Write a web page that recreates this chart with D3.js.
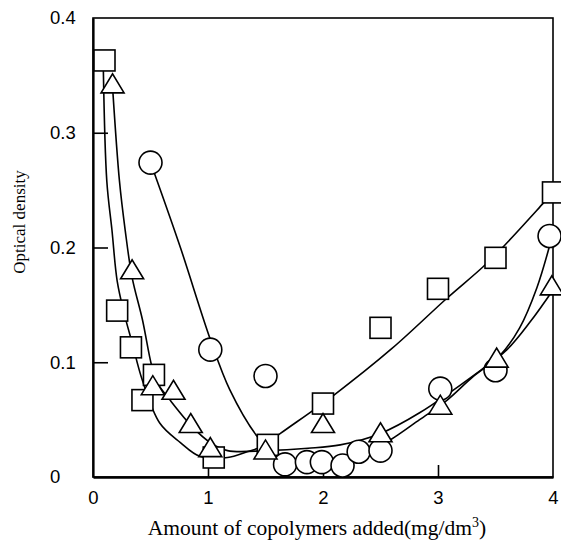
<!DOCTYPE html>
<html>
<head>
<meta charset="utf-8">
<script src="https://cdn.jsdelivr.net/npm/d3@7"></script>
<style>
  body { margin: 0; background: #fff; }
  .tick text { font-family: "Liberation Sans", Arial, sans-serif; font-size: 18.5px; fill: #000; }
  .title { font-family: "Liberation Serif", "Times New Roman", serif; fill: #000; }
</style>
</head>
<body>
<div id="chart"></div>
<script>
const squareX = [0.10, 0.21, 0.33, 0.43, 0.53, 1.05, 1.52, 2.00, 2.50, 3.00, 3.50, 4.00];
const squareY = [0.363, 0.145, 0.113, 0.067, 0.089, 0.017, 0.028, 0.064, 0.130, 0.164, 0.191, 0.248];

const triangleX = [0.17, 0.34, 0.52, 0.70, 0.85, 1.02, 1.50, 2.00, 2.50, 3.02, 3.51, 3.99];
const triangleY = [0.343, 0.181, 0.080, 0.076, 0.047, 0.026, 0.024, 0.047, 0.039, 0.063, 0.104, 0.167];

const circleX = [0.50, 1.02, 1.50, 1.67, 1.86, 1.99, 2.17, 2.31, 2.50, 3.02, 3.50, 3.97];
const circleY = [0.274, 0.111, 0.088, 0.011, 0.013, 0.013, 0.010, 0.022, 0.023, 0.077, 0.093, 0.210];

// hand drawn fit curves
const squareFitX = [0.09, 0.12, 0.165, 0.21, 0.27, 0.34, 0.43, 0.58, 0.76, 0.93, 1.17, 1.34, 1.48, 1.63, 2.09, 2.60, 3.08, 3.39, 3.58, 3.91, 4.00];
const squareFitY = [0.355, 0.258, 0.215, 0.171, 0.143, 0.117, 0.084, 0.047, 0.030, 0.018, 0.017, 0.022, 0.027, 0.038, 0.071, 0.112, 0.156, 0.183, 0.202, 0.238, 0.248];

const triangleFitX = [0.17, 0.23, 0.28, 0.34, 0.43, 0.51, 0.56, 0.67, 0.87, 1.02, 1.17, 1.51, 1.87, 2.15, 2.50, 2.84, 3.37, 3.60, 3.80, 4.00];
const triangleFitY = [0.340, 0.258, 0.215, 0.174, 0.137, 0.097, 0.082, 0.067, 0.043, 0.030, 0.023, 0.023, 0.025, 0.028, 0.038, 0.056, 0.093, 0.111, 0.135, 0.163];

const circleFitX = [0.50, 0.54, 0.76, 1.02, 1.19, 1.43, 1.63, 1.85, 2.10, 2.35, 2.58, 2.84, 3.08, 3.30, 3.54, 3.71, 3.86, 3.98];
const circleFitY = [0.274, 0.263, 0.200, 0.120, 0.076, 0.035, 0.014, 0.008, 0.010, 0.020, 0.032, 0.050, 0.067, 0.087, 0.106, 0.130, 0.165, 0.205];

const xTicks = [0, 1, 2, 3, 4];
const yTicks = [0, 0.1, 0.2, 0.3, 0.4];

const W = 561, H = 547;
const plotLeft = 93, plotRight = 553, plotTop = 18, plotBottom = 477;

const svg = d3.select('#chart')
  .append('svg')
  .attr('width', W)
  .attr('height', H);

const x = d3.scaleLinear().domain([0, 4]).range([plotLeft, plotRight]);
const y = d3.scaleLinear().domain([0, 0.4]).range([plotBottom, plotTop]);

// frame
svg.append('rect')
  .attr('x', x(0))
  .attr('y', y(0.4))
  .attr('width', x(4) - x(0))
  .attr('height', y(0) - y(0.4))
  .attr('fill', 'none')
  .attr('stroke', '#000')
  .attr('stroke-width', 1.6);

// axes (ticks point inward)
const yAxis = svg.append('g')
  .attr('transform', `translate(${plotLeft},0)`)
  .call(d3.axisLeft(y)
    .tickValues(yTicks)
    .tickSize(-15)
    .tickSizeOuter(0)
    .tickFormat(d => d === 0 ? '0' : d3.format('.1f')(d)));
yAxis.select('.domain').attr('stroke-width', 2.2);
yAxis.selectAll('.tick line').attr('stroke-width', 1.6);
yAxis.selectAll('.tick text')
  .attr('x', -43)
  .attr('text-anchor', 'start');
yAxis.selectAll('.tick').filter(d => d === 0 || d === 0.4).select('line').remove();

const xAxis = svg.append('g')
  .attr('transform', `translate(0,${plotBottom})`)
  .call(d3.axisBottom(x)
    .tickValues(xTicks)
    .tickSize(-12)
    .tickSizeOuter(0)
    .tickFormat(d3.format('d')));
xAxis.select('.domain').attr('stroke-width', 2.6);
xAxis.selectAll('.tick line').attr('stroke-width', 1.6);
xAxis.selectAll('.tick text').attr('y', 14);
xAxis.selectAll('.tick').filter(d => d === 0 || d === 4).select('line').remove();
svg.selectAll('.domain').attr('stroke', '#000');

// curves
const line = d3.line()
  .x(d => x(d[0]))
  .y(d => y(d[1]))
  .curve(d3.curveCatmullRom.alpha(0.5));

const fits = [
  d3.zip(squareFitX, squareFitY),
  d3.zip(triangleFitX, triangleFitY),
  d3.zip(circleFitX, circleFitY),
];

svg.selectAll('.fit')
  .data(fits)
  .enter()
  .append('path')
  .attr('class', 'fit')
  .attr('d', line)
  .attr('fill', 'none')
  .attr('stroke', '#000')
  .attr('stroke-width', 1.6);

// markers
svg.selectAll('.sq')
  .data(d3.zip(squareX, squareY))
  .enter()
  .append('rect')
  .attr('class', 'sq')
  .attr('x', d => x(d[0]) - 10.5)
  .attr('y', d => y(d[1]) - 10.5)
  .attr('width', 21)
  .attr('height', 21)
  .attr('fill', '#fff')
  .attr('stroke', '#000')
  .attr('stroke-width', 1.6);

svg.selectAll('.ci')
  .data(d3.zip(circleX, circleY))
  .enter()
  .append('circle')
  .attr('class', 'ci')
  .attr('cx', d => x(d[0]))
  .attr('cy', d => y(d[1]))
  .attr('r', 11.5)
  .attr('fill', '#fff')
  .attr('stroke', '#000')
  .attr('stroke-width', 1.6);

svg.selectAll('.tr')
  .data(d3.zip(triangleX, triangleY))
  .enter()
  .append('path')
  .attr('class', 'tr')
  .attr('d', d => {
    const cx = x(d[0]), cy = y(d[1]);
    return `M${cx - 11.5},${cy + 9.5}L${cx + 11.5},${cy + 9.5}L${cx},${cy - 9.5}Z`;
  })
  .attr('fill', '#fff')
  .attr('stroke', '#000')
  .attr('stroke-width', 1.6)
  .attr('stroke-linejoin', 'miter');

// titles
svg.append('text')
  .attr('class', 'title')
  .attr('transform', `translate(25,222) rotate(-90)`)
  .attr('text-anchor', 'middle')
  .attr('font-size', 17)
  .text('Optical density');

const xt = svg.append('text')
  .attr('class', 'title')
  .attr('x', 317)
  .attr('y', 535)
  .attr('text-anchor', 'middle')
  .attr('font-size', 21.5);
xt.append('tspan').text('Amount of copolymers added(mg/dm');
xt.append('tspan').attr('font-size', 14).attr('dy', -8).text('3');
xt.append('tspan').attr('dy', 8).text(')');
</script>
</body>
</html>
